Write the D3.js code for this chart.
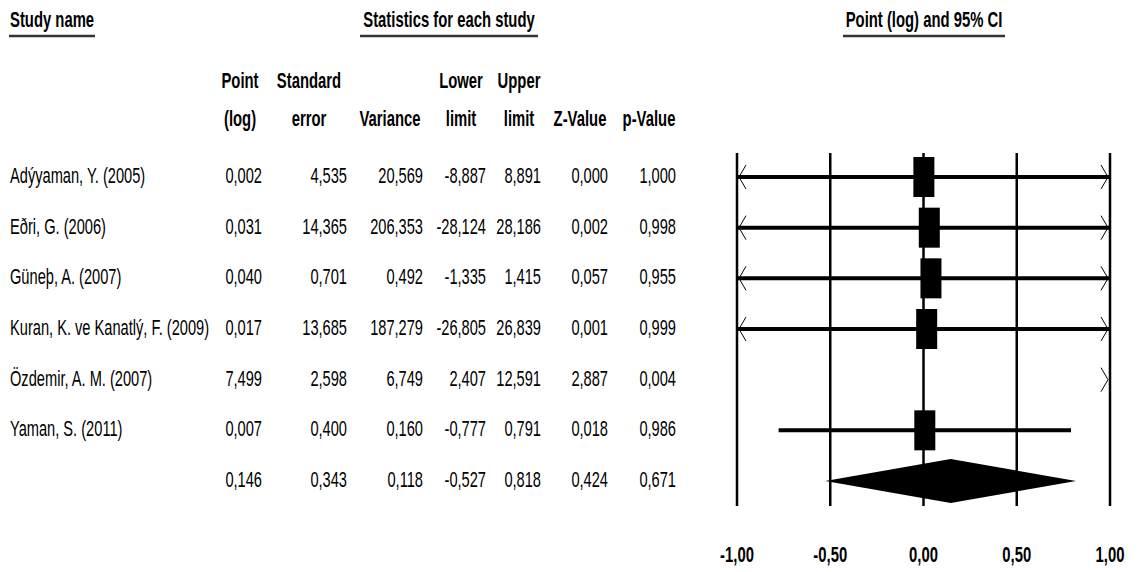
<!DOCTYPE html>
<html><head><meta charset="utf-8">
<script src="https://cdn.jsdelivr.net/npm/d3@7"></script>
<style>
html,body{margin:0;padding:0;background:#fff;}
svg{display:block;}
text{font-family:"Liberation Sans",Arial,sans-serif;fill:#000;}
</style></head>
<body>
<svg id="chart" width="1138" height="572"></svg>
<script>
// ---- data ----
const studies = ["Adýyaman, Y. (2005)", "Eðri, G. (2006)", "Güneþ, A. (2007)", "Kuran, K. ve Kanatlý, F. (2009)", "Özdemir, A. M. (2007)", "Yaman, S. (2011)", ""];
const pointLog = [0.002, 0.031, 0.040, 0.017, 7.499, 0.007, 0.146];
const stdError = [4.535, 14.365, 0.701, 13.685, 2.598, 0.400, 0.343];
const variance = [20.569, 206.353, 0.492, 187.279, 6.749, 0.160, 0.118];
const lowerLimit = [-8.887, -28.124, -1.335, -26.805, 2.407, -0.777, -0.527];
const upperLimit = [8.891, 28.186, 1.415, 26.839, 12.591, 0.791, 0.818];
const zValue = [0.000, 0.002, 0.057, 0.001, 2.887, 0.018, 0.424];
const pValue = [1.000, 0.998, 0.955, 0.999, 0.004, 0.986, 0.671];
const axisTicks = [-1, -0.5, 0, 0.5, 1];
const colHeaders = [["Point", "(log)"], ["Standard", "error"], ["", "Variance"], ["Lower", "limit"], ["Upper", "limit"], ["", "Z-Value"], ["", "p-Value"]];
const sectionTitles = ["Study name", "Statistics for each study", "Point (log) and 95% CI"];

const svg = d3.select("#chart");
const fmt = v => d3.format(".3f")(v).replace("\u2212", "-").replace(".", ",");
const fmtTick = v => d3.format(".2f")(v).replace("\u2212", "-").replace(".", ",");

const x = d3.scaleLinear().domain([-1, 1]).range([737, 1110]);
const rowIdx = d3.range(studies.length);
const y = d3.scalePoint().domain(rowIdx).range([177, 481]);

const FS = 22, SX = 0.665, SXB = 0.675;
function txt(parent, px, py, s, anchor, bold) {
  return parent.append("text")
    .attr("transform", `translate(${px},${py}) scale(${bold ? SXB : SX},1)`)
    .attr("text-anchor", anchor || "start")
    .attr("font-weight", bold ? "bold" : "normal")
    .attr("font-size", FS).text(s);
}

// section titles
const titlePos = [{x: 10, anchor: "start", ul: [9, 95]}, {x: 449, anchor: "middle", ul: [360, 538]}, {x: 924, anchor: "middle", ul: [843, 1005]}];
sectionTitles.forEach((t, i) => {
  const d = titlePos[i];
  txt(svg, d.x, 27, t, d.anchor, true);
  svg.append("line").attr("x1", d.ul[0]).attr("x2", d.ul[1]).attr("y1", 36).attr("y2", 36)
    .attr("stroke", "#333").attr("stroke-width", 2.5);
});

// column headers
const colRight = [262, 347, 423, 486, 541, 608, 676];
const colCenter = [240, 309, 390, 461, 519, 580, 649];
const cols = [pointLog, stdError, variance, lowerLimit, upperLimit, zValue, pValue];
colHeaders.forEach((h, i) => {
  if (h[0]) txt(svg, colCenter[i], 88, h[0], "middle", true);
  txt(svg, colCenter[i], 126, h[1], "middle", true);
});

// table rows
rowIdx.forEach(i => {
  const yy = y(i) + 6;
  if (studies[i]) txt(svg, 10, yy, studies[i], "start", false);
  cols.forEach((c, j) => txt(svg, colRight[j], yy, fmt(c[i]), "end", false));
});

// gridlines
const g = svg.append("g");
g.selectAll("line.grid").data(axisTicks).enter().append("line")
  .attr("x1", d => x(d)).attr("x2", d => x(d)).attr("y1", 153).attr("y2", 506)
  .attr("stroke", "#000").attr("stroke-width", 2.5);

// tick labels
axisTicks.forEach(d => txt(g, x(d), 562, fmtTick(d), "middle", true));

// study CI lines, arrows, boxes
const nStudies = studies.length - 1;
const [dmin, dmax] = x.domain();
for (let i = 0; i < nStudies; i++) {
  const yy = y(i);
  const lo = lowerLimit[i], hi = upperLimit[i];
  const a = Math.max(lo, dmin), b = Math.min(hi, dmax);
  if (a < b) {
    g.append("line").attr("x1", x(a)).attr("x2", x(b)).attr("y1", yy).attr("y2", yy)
      .attr("stroke", "#000").attr("stroke-width", 4);
  }
  if (lo < dmin) {
    const xe = x(dmin) + 2;
    g.append("path").attr("d", `M${xe + 7},${yy - 12}L${xe},${yy}L${xe + 7},${yy + 12}`)
      .attr("fill", "none").attr("stroke", "#000").attr("stroke-width", 1);
  }
  if (hi > dmax) {
    const xe = x(dmax) - 2;
    g.append("path").attr("d", `M${xe - 7},${yy - 12}L${xe},${yy}L${xe - 7},${yy + 12}`)
      .attr("fill", "none").attr("stroke", "#000").attr("stroke-width", 1);
  }
  const p = pointLog[i];
  if (p >= dmin && p <= dmax) {
    g.append("rect").attr("x", x(p) - 10.5).attr("y", yy - 20).attr("width", 21).attr("height", 40)
      .attr("fill", "#000");
  }
}

// summary diamond
const si = studies.length - 1;
const sy = y(si);
g.append("path")
  .attr("d", `M${x(lowerLimit[si])},${sy}L${x(pointLog[si])},${sy - 22}L${x(upperLimit[si])},${sy}L${x(pointLog[si])},${sy + 22}Z`)
  .attr("fill", "#000");
</script>
</body></html>
